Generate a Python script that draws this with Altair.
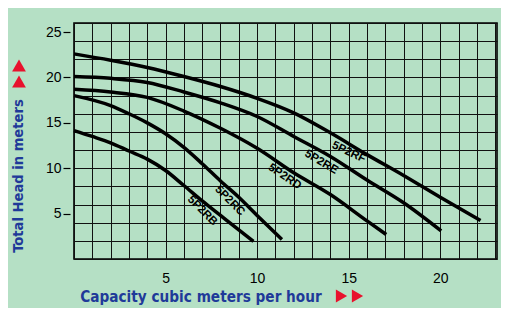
import altair as alt
import pandas as pd

# ---- data ----
series = ["5P2RB", "5P2RC", "5P2RD", "5P2RE", "5P2RF"]
rb_x = [0, 1, 2, 3, 4, 5, 6, 7, 8, 9, 9.8]
rb_y = [14.15, 13.5, 12.8, 11.9, 11.0, 9.75, 8.1, 6.4, 4.8, 3.2, 1.95]
rc_x = [0, 2, 3, 4, 5, 6, 7, 8, 9, 10, 11.35]
rc_y = [18.0, 16.9, 16.0, 15.0, 13.8, 12.3, 10.5, 8.6, 6.8, 4.8, 2.15]
rd_x = [0, 2, 4, 6, 8, 10, 12, 14, 16, 17.05]
rd_y = [18.7, 18.4, 17.8, 16.3, 14.4, 12.2, 9.5, 7.1, 4.2, 2.7]
re_x = [0, 2, 4, 6, 8, 10, 12, 14, 16, 18, 20.05]
re_y = [20.1, 19.9, 19.45, 18.4, 17.2, 15.7, 13.5, 11.3, 8.7, 6.2, 3.1]
rf_x = [0, 2, 4, 6, 8, 10, 12, 14, 16, 18, 20, 22.2]
rf_y = [22.6, 21.9, 21.1, 20.1, 19.0, 17.7, 16.1, 13.9, 11.5, 9.2, 6.8, 4.25]

label_x = [7.0, 8.5, 11.5, 13.5, 15.0]
label_y = [5.3, 6.4, 9.05, 10.65, 11.75]
label_angle = [45, 45, 34, 31, 25]

x_ticks = [5, 10, 15, 20]
y_ticks = [5, 10, 15, 20, 25]
x_grid = list(range(0, 24))
y_grid = list(range(0, 27, 2))

x_title = "Capacity cubic meters per hour"
y_title = "Total Head in meters"

# ---- build tables ----
rows = []
for name, xs, ys in zip(series, [rb_x, rc_x, rd_x, re_x, rf_x],
                        [rb_y, rc_y, rd_y, re_y, rf_y]):
    for i, (a, b) in enumerate(zip(xs, ys)):
        rows.append({"pump": name, "x": a, "y": b, "order": i})
curves = pd.DataFrame(rows)
labels = pd.DataFrame({"pump": series, "lx": label_x, "ly": label_y,
                       "angle": label_angle})
one = pd.DataFrame({"a": [0]})

BG = "#b5e0c5"
BLUE = "#1f3a99"
RED = "#e8112d"
TITLE_FONT = "DejaVu Sans Condensed, sans-serif"

xscale = alt.Scale(domain=[0, 23.1], nice=False, zero=False)
yscale = alt.Scale(domain=[0, 26], nice=False, zero=False)

lines = alt.Chart(curves).mark_line(
    color="black", strokeWidth=3.5, interpolate="monotone"
).encode(
    x=alt.X("x:Q", scale=xscale,
            axis=alt.Axis(values=x_grid, grid=True, labels=False, ticks=False,
                          domain=False, title=None, orient="bottom",
                          gridColor="#111111", gridOpacity=1, gridWidth=1)),
    y=alt.Y("y:Q", scale=yscale,
            axis=alt.Axis(values=y_grid, grid=True, labels=False, ticks=False,
                          domain=False, title=None, orient="left",
                          gridColor="#111111", gridOpacity=1, gridWidth=1)),
    detail="pump:N",
    order="order:Q",
)

curve_labels = alt.Chart(labels).mark_text(
    font="Liberation Sans, sans-serif", fontWeight="bold", fontSize=11.5,
    color="black", align="center", baseline="middle"
).encode(
    x=alt.X("lx:Q", scale=xscale,
            axis=alt.Axis(values=x_ticks, grid=False, ticks=False, domain=False,
                          title=None, orient="bottom", labelPadding=12,
                          labelFontSize=14, labelColor="black",
                          labelFont="Liberation Sans, sans-serif")),
    y=alt.Y("ly:Q", scale=yscale,
            axis=alt.Axis(values=y_ticks, grid=False, ticks=True, tickSize=7,
                          tickColor="black", tickWidth=1.2, domain=False,
                          title=None, orient="left", offset=4, labelPadding=2,
                          labelFontSize=14, labelColor="black",
                          labelFont="Liberation Sans, sans-serif")),
    text="pump:N",
    angle=alt.Angle("angle:Q", scale=None),
)

xt = alt.Chart(one).mark_text(
    text=x_title, font=TITLE_FONT, fontWeight="bold", fontSize=15.2,
    color=BLUE, align="center", baseline="alphabetic"
).encode(x=alt.value(127), y=alt.value(278.5))

yt = alt.Chart(one).mark_text(
    text=y_title, font=TITLE_FONT, fontWeight="bold", fontSize=14.6,
    color=BLUE, align="center", baseline="middle", angle=270
).encode(x=alt.value(-55), y=alt.value(153))

tri_r1 = alt.Chart(one).mark_point(shape="triangle-right", filled=True,
                                   color=RED, opacity=1, size=169).encode(
    x=alt.value(267.5), y=alt.value(273))
tri_r2 = alt.Chart(one).mark_point(shape="triangle-right", filled=True,
                                   color=RED, opacity=1, size=169).encode(
    x=alt.value(283.5), y=alt.value(273))
tri_u1 = alt.Chart(one).mark_point(shape="triangle-up", filled=True,
                                   color=RED, opacity=1, size=190).encode(
    x=alt.value(-55), y=alt.value(42.5))
tri_u2 = alt.Chart(one).mark_point(shape="triangle-up", filled=True,
                                   color=RED, opacity=1, size=190).encode(
    x=alt.value(-55), y=alt.value(58.5))

chart = alt.layer(
    lines, curve_labels, xt, yt, tri_r1, tri_r2, tri_u1, tri_u2
).resolve_axis(
    x="independent", y="independent"
).properties(
    width=423, height=236,
    padding={"left": 66, "top": 15, "right": 4, "bottom": 49},
    autosize=alt.AutoSizeParams(type="none"),
    background=BG,
).configure_view(
    stroke="black", strokeWidth=1.6
)

chart.save("out.html", embed_options={"renderer": "svg", "actions": False})
